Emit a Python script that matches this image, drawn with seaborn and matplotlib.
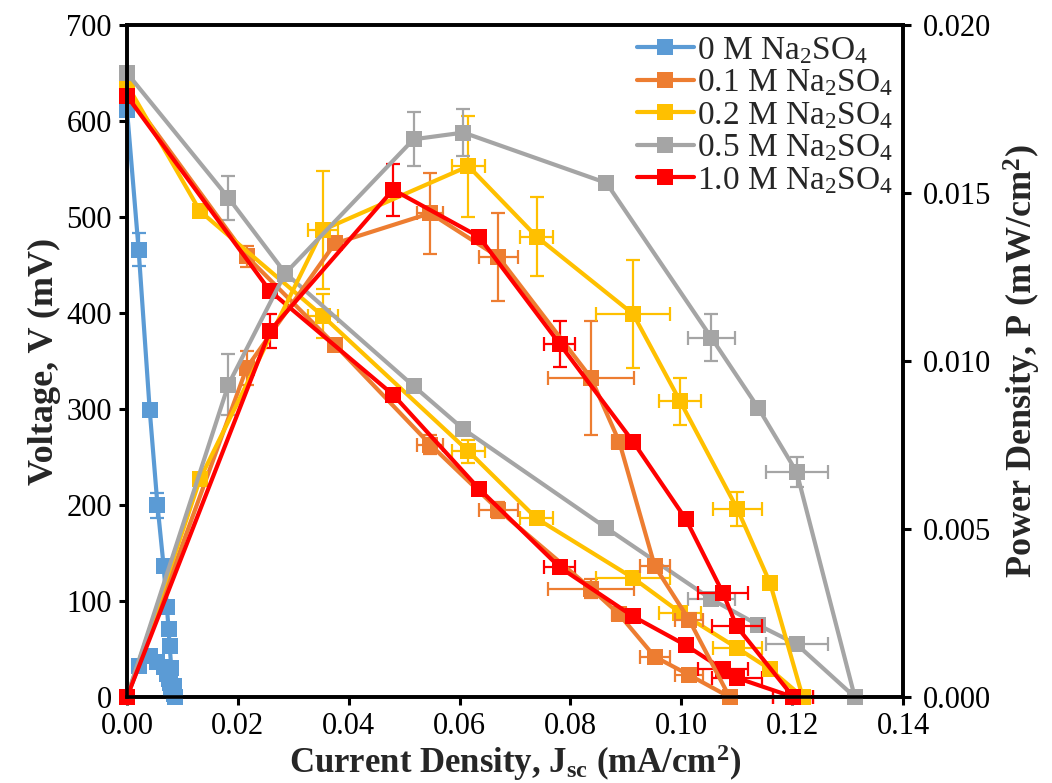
import numpy as np
import pandas as pd
import matplotlib
matplotlib.use("Agg")
import matplotlib.pyplot as plt
import seaborn as sns

# ---- data -------------------------------------------------------------
labels = ["0 M Na$_2$SO$_4$", "0.1 M Na$_2$SO$_4$", "0.2 M Na$_2$SO$_4$",
          "0.5 M Na$_2$SO$_4$", "1.0 M Na$_2$SO$_4$"]
colors = ["#5B9BD5", "#ED7D31", "#FFC000", "#A5A5A5", "#FF0000"]

# current density (mA/cm2)
J_0 = [0, 0.0021, 0.0041, 0.0055, 0.0066, 0.0072, 0.0075, 0.0077, 0.0080, 0.0084, 0.0087]
J_1 = [0, 0.0216, 0.0375, 0.0547, 0.0670, 0.0837, 0.0888, 0.0952, 0.1014, 0.1087]
J_2 = [0, 0.0132, 0.0353, 0.0616, 0.0739, 0.0913, 0.0998, 0.1101, 0.1160, 0.1219]
J_3 = [0, 0.0183, 0.0285, 0.0517, 0.0607, 0.0865, 0.1054, 0.1139, 0.1208, 0.1313]
J_4 = [0, 0.0258, 0.0480, 0.0635, 0.0781, 0.0913, 0.1008, 0.1075, 0.1100, 0.1202]

# voltage (mV)
V_0 = [612, 466, 299, 200, 137, 94, 71, 53, 30, 11, 0]
V_1 = [630, 459, 367, 263, 195, 113, 86, 42, 23, 0]
V_2 = [638, 506, 397, 256, 186, 124, 88, 51, 29, 0]
V_3 = [650, 520, 442, 324, 279, 176, 102, 75, 55, 0]
V_4 = [626, 423, 315, 217, 135, 84, 54, 29, 20, 0]

# power density (mW/cm2)
P_0 = [0, 0.00091, 0.00122, 0.00105, 0.00090, 0.00068, 0.00053, 0.00041, 0.00025, 0.00010, 0]
P_1 = [0, 0.0098, 0.0135, 0.0144, 0.0131, 0.0095, 0.0076, 0.0039, 0.0023, 0]
P_2 = [0, 0.0065, 0.0139, 0.0158, 0.0137, 0.0114, 0.0088, 0.0056, 0.0034, 0]
P_3 = [0, 0.0093, 0.0126, 0.0166, 0.0168, 0.0153, 0.0107, 0.0086, 0.0067, 0]
P_4 = [0, 0.0109, 0.0151, 0.0137, 0.0105, 0.0076, 0.0053, 0.0031, 0.0021, 0]

# standard deviations
Jerr_0 = [0] * 11
Jerr_1 = [0, 0.0010, 0, 0.0024, 0.0035, 0.0078, 0.0013, 0.0027, 0.0025, 0]
Jerr_2 = [0, 0, 0.0027, 0.0029, 0.0030, 0.0067, 0.0038, 0.0044, 0, 0]
Jerr_3 = [0, 0, 0, 0, 0, 0, 0.0042, 0.0010, 0.0056, 0]
Jerr_4 = [0, 0, 0, 0, 0.0028, 0, 0.0009, 0.0045, 0.0045, 0.0036]

Verr_0 = [0, 17, 0, 13, 0, 0, 0, 0, 0, 0, 0]
Verr_1 = [0, 11, 5, 10, 8, 10, 5, 0, 0, 0]
Verr_2 = [0, 0, 23, 12, 0, 0, 0, 0, 0, 0]
Verr_3 = [5, 23, 0, 0, 0, 0, 0, 0, 0, 0]
Verr_4 = [0] * 10

Perr_0 = [0] * 11
Perr_1 = [0, 0.0005, 0.00015, 0.0012, 0.0013, 0.0017, 0, 0, 0, 0]
Perr_2 = [0, 0, 0.00175, 0.0015, 0.00117, 0.0016, 0.0007, 0.0005, 0, 0]
Perr_3 = [0, 0.0009, 0, 0.0008, 0.0007, 0, 0.0007, 0.00015, 0.00045, 0]
Perr_4 = [0, 0.0005, 0.00077, 0.00015, 0.00068, 0, 0, 0, 0, 0]

J_all = [J_0, J_1, J_2, J_3, J_4]
V_all = [V_0, V_1, V_2, V_3, V_4]
P_all = [P_0, P_1, P_2, P_3, P_4]
Jerr_all = [Jerr_0, Jerr_1, Jerr_2, Jerr_3, Jerr_4]
Verr_all = [Verr_0, Verr_1, Verr_2, Verr_3, Verr_4]
Perr_all = [Perr_0, Perr_1, Perr_2, Perr_3, Perr_4]

x_ticks = [0.00, 0.02, 0.04, 0.06, 0.08, 0.10, 0.12, 0.14]
v_ticks = [0, 100, 200, 300, 400, 500, 600, 700]
p_ticks = [0.000, 0.005, 0.010, 0.015, 0.020]

# ---- style ------------------------------------------------------------
sns.set_style("white")
plt.rcParams["font.family"] = ["Liberation Serif", "DejaVu Serif"]
plt.rcParams["mathtext.fontset"] = "custom"
plt.rcParams["mathtext.rm"] = "Liberation Serif"
plt.rcParams["mathtext.bf"] = "Liberation Serif:bold"
plt.rcParams["mathtext.it"] = "Liberation Serif:italic"

TICK_FS = 22
LEGEND_FS = 24
LABEL_FS = 26
XLABEL_FS = 25
LW = 3.0
MS = 11
SPINE_W = 2.6

fig = plt.figure(figsize=(10.52, 7.83), dpi=100)
ax1 = fig.add_axes([0.1207, 0.1098, 0.7377, 0.8582])
ax2 = ax1.twinx()


def draw_errors(ax, x, y, xe, ye, color):
    x = np.asarray(x, float); y = np.asarray(y, float)
    xe = np.asarray(xe, float); ye = np.asarray(ye, float)
    kw = dict(fmt="none", ecolor=color, elinewidth=1.6, capsize=5, capthick=1.6,
              zorder=1.8, clip_on=False)
    m = ye > 0
    if m.any():
        ax.errorbar(x[m], y[m], yerr=ye[m], **kw)
    m = xe > 0
    if m.any():
        ax.errorbar(x[m], y[m], xerr=xe[m], **kw)


handles = []
for c, J, V, P, Je, Ve, Pe in zip(colors, J_all, V_all, P_all,
                                  Jerr_all, Verr_all, Perr_all):
    df = pd.DataFrame({"J": J, "V": V, "P": P})
    draw_errors(ax1, J, V, Je, Ve, c)
    sns.lineplot(data=df, x="J", y="V", ax=ax1, color=c, sort=False,
                 estimator=None, marker="s", markersize=MS, markeredgewidth=0,
                 linewidth=LW, clip_on=False, zorder=2)
    handles.append(ax1.get_lines()[-1])
    draw_errors(ax2, J, P, Je, Pe, c)
    sns.lineplot(data=df, x="J", y="P", ax=ax2, color=c, sort=False,
                 estimator=None, marker="s", markersize=MS, markeredgewidth=0,
                 linewidth=LW, clip_on=False, zorder=2)

# ---- axes -------------------------------------------------------------
ax1.set_xlim(0, 0.14)
ax1.set_ylim(0, 700)
ax2.set_ylim(0, 0.020)
ax1.set_xticks(x_ticks)
ax1.set_xticklabels([f"{t:.2f}" for t in x_ticks])
ax1.set_yticks(v_ticks)
ax1.set_yticklabels([str(t) for t in v_ticks])
ax2.set_yticks(p_ticks)
ax2.set_yticklabels([f"{t:.3f}" for t in p_ticks])

for ax in (ax1, ax2):
    for s in ax.spines.values():
        s.set_visible(True)
        s.set_linewidth(SPINE_W)
        s.set_color("black")
ax1.tick_params(axis="both", direction="out", length=6, width=2.2,
                labelsize=TICK_FS, colors="black",
                left=True, bottom=True, right=False, top=False)
ax1.tick_params(axis="x", pad=5)
ax1.tick_params(axis="y", pad=5)
ax2.tick_params(axis="y", direction="out", length=6, width=2.2,
                labelsize=TICK_FS, colors="black", pad=8, right=True)

ax1.set_xlabel(r"Current Density, J$_{\mathbf{sc}}$ (mA/cm$^{\mathbf{2}}$)",
               fontsize=XLABEL_FS, fontweight="bold", labelpad=1)
ax1.set_ylabel("Voltage, V (mV)", fontsize=LABEL_FS, fontweight="bold", labelpad=4)
ax2.set_ylabel(r"Power Density, P (mW/cm$^{\mathbf{2}}$)", fontsize=LABEL_FS,
               fontweight="bold", labelpad=8)

leg = ax2.legend(handles, labels, loc="upper right", bbox_to_anchor=(1.0, 1.0),
                 borderaxespad=0.1, frameon=True, fancybox=False,
                 edgecolor="none", facecolor="white", framealpha=1,
                 fontsize=LEGEND_FS, labelspacing=0.05, handlelength=1.7,
                 handletextpad=0.1, borderpad=0.2)
leg.set_zorder(5)

fig.savefig("out.png", dpi=100)
